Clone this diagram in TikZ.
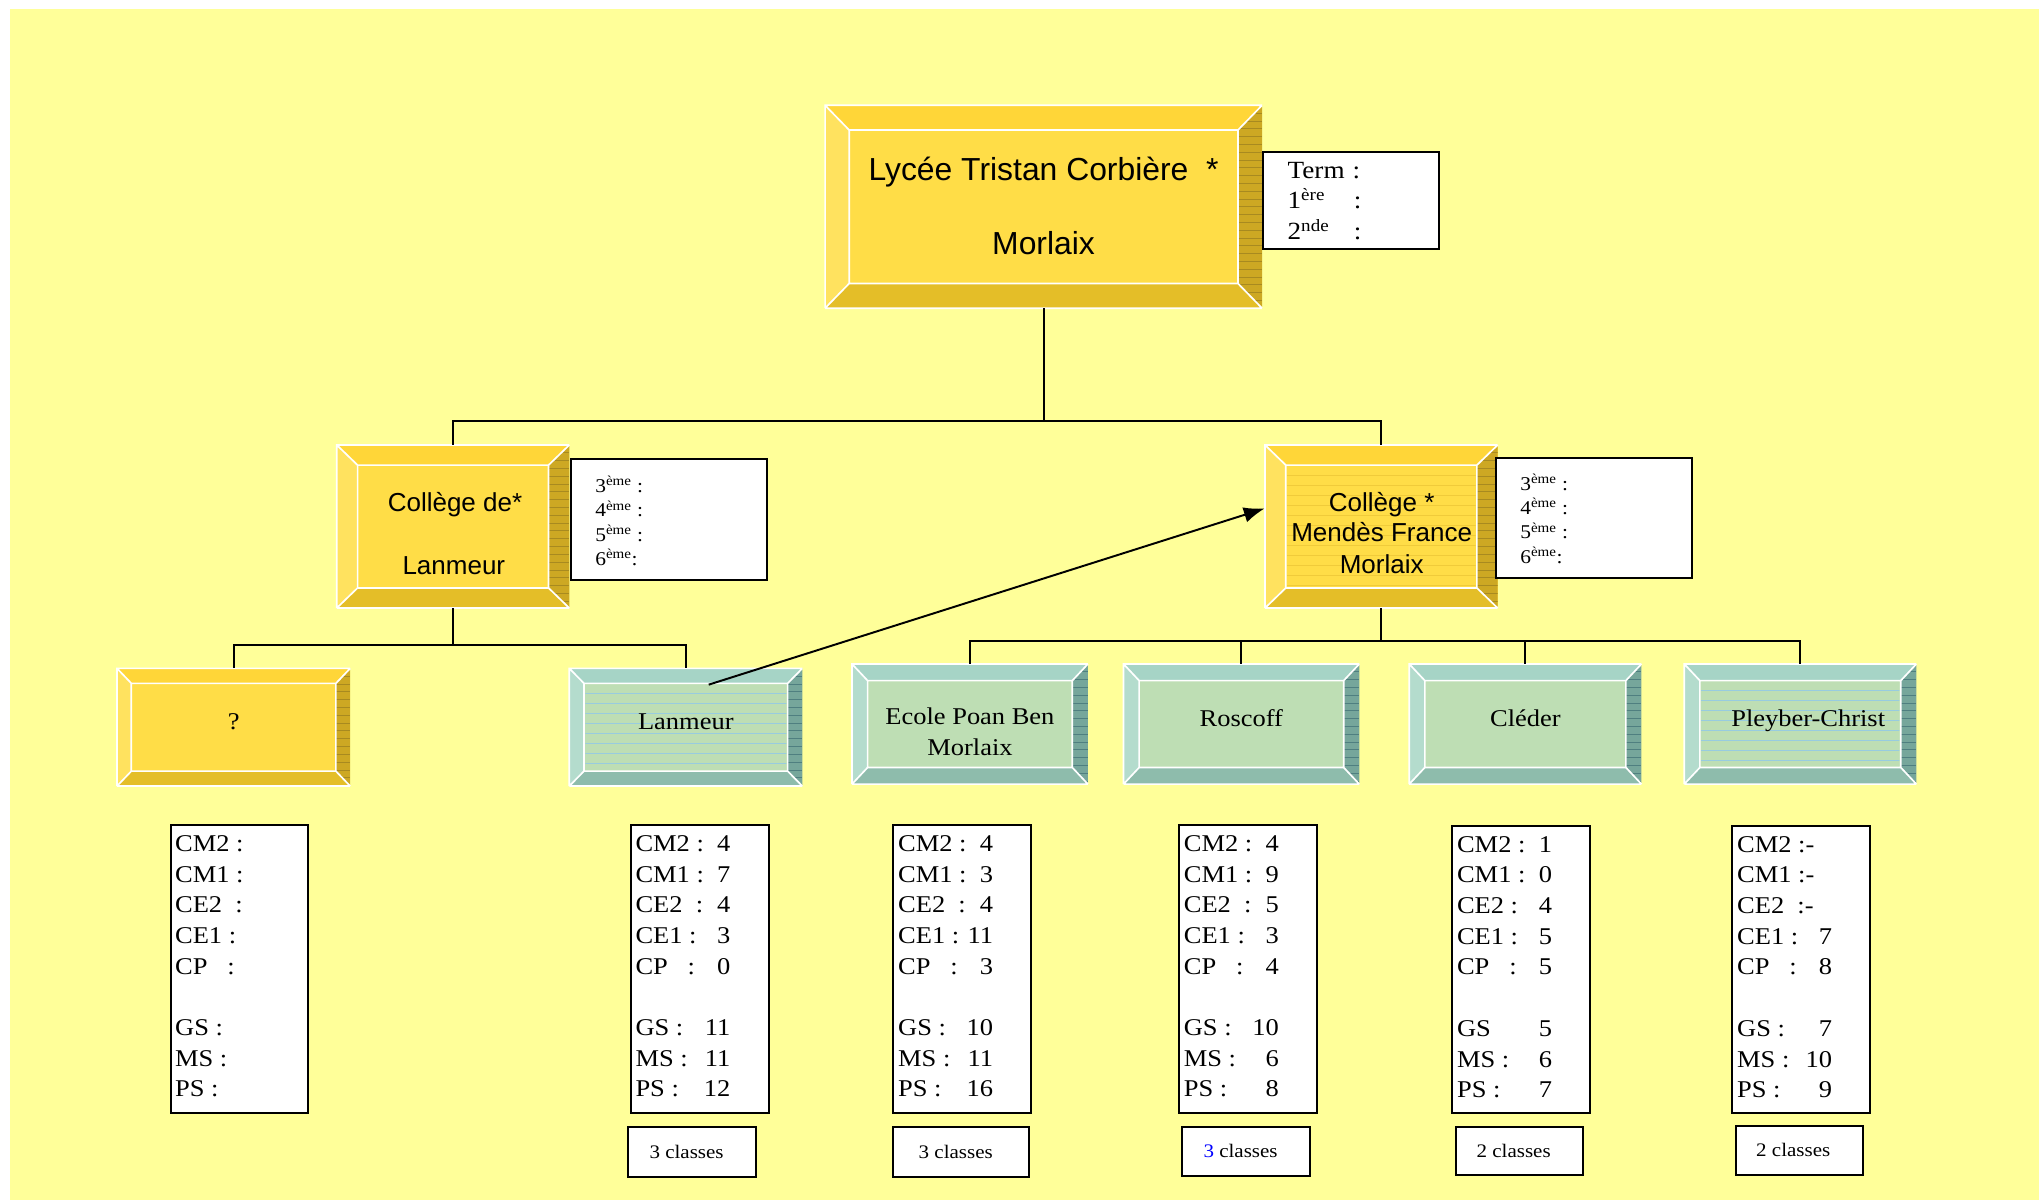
\documentclass[tikz,border=0pt]{standalone}
\usepackage{fontspec}
\setmainfont{Liberation Serif}[FakeStretch=1.1]
\newfontfamily\arialf{Liberation Sans}
\usetikzlibrary{arrows.meta,fit}
\definecolor{bgy}{HTML}{FFFF99}
\definecolor{yelF}{HTML}{FFDD47}
\definecolor{yelT}{HTML}{FFD638}
\definecolor{yelL}{HTML}{FFE25F}
\definecolor{yelB}{HTML}{E4BE28}
\definecolor{yelR}{HTML}{CDA823}
\definecolor{yelH}{HTML}{A88A20}
\definecolor{tealF}{HTML}{BEDEB4}
\definecolor{tealT}{HTML}{A6D4C6}
\definecolor{tealL}{HTML}{B4DCCD}
\definecolor{tealB}{HTML}{8EBCAC}
\definecolor{tealR}{HTML}{76A69B}
\definecolor{tealH}{HTML}{4F7F80}
\definecolor{stripeB}{HTML}{98CCE0}
\definecolor{stripeY}{HTML}{F0CB3A}
\newcommand\bevbox[8]{%
 \fill[#2F] (#3,#4) rectangle (#5,#6);
 \fill[#2T] (#3,#4) -- (#5,#4) -- ({#5-#7},{#4+#8}) -- ({#3+#7},{#4+#8}) -- cycle;
 \fill[#2B] (#3,#6) -- (#5,#6) -- ({#5-#7},{#6-#8}) -- ({#3+#7},{#6-#8}) -- cycle;
 \fill[#2L] (#3,#4) -- ({#3+#7},{#4+#8}) -- ({#3+#7},{#6-#8}) -- (#3,#6) -- cycle;
 \fill[#2R] (#5,#4) -- ({#5-#7},{#4+#8}) -- ({#5-#7},{#6-#8}) -- (#5,#6) -- cycle;
 \begin{scope}
  \clip (#5,#4) -- ({#5-#7},{#4+#8}) -- ({#5-#7},{#6-#8}) -- (#5,#6) -- cycle;
  \foreach \k in {1,...,30}{\draw[#2H,line width=0.5pt] ({#5-#7},{#4+\k*6}) -- (#5,{#4+\k*6});}
 \end{scope}
 \draw[white,line width=1.3pt] (#3,#6) -- (#3,#4) -- (#5,#4) (#3,#6) -- (#5,#6)
   (#3,#4) -- ({#3+#7},{#4+#8}) (#5,#4) -- ({#5-#7},{#4+#8})
   (#3,#6) -- ({#3+#7},{#6-#8}) (#5,#6) -- ({#5-#7},{#6-#8})
   ({#3+#7},{#4+#8}) rectangle ({#5-#7},{#6-#8});
 \node[inner sep=0,fit={(#3,#4)(#5,#6)}] (#1) {};
}
\newcommand\stripes[5]{%
 \begin{scope}
  \clip ({#1+1},{#2+1}) rectangle ({#3-1},{#4-1});
  \foreach \k in {1,...,20}{\draw[#5,line width=0.6pt] (#1,{#2+\k*7.7}) -- (#3,{#2+\k*7.7});}
 \end{scope}
}
\newcommand\drow[2]{\hbox to 73pt{#1\hfill #2}}
\newcommand\dfont{\fontsize{18.5}{23.6}\selectfont}
\newcommand\sfnt{\fontsize{18.5}{22}\selectfont}
\newcommand\cfont{\fontsize{14.7}{18}\selectfont}
\newcommand\tfont{\fontsize{19}{23.4}\selectfont}
\newcommand\kfont{\fontsize{15}{18.7}\selectfont}
\begin{document}
\begin{tikzpicture}[x=1pt,y=-1pt,
  conn/.style={line width=1.5pt,black},
  blk/.style={draw=black,line width=1.5pt,fill=white,inner sep=0},
  txt/.style={inner sep=0},
  ar/.style={arialf},
]
\useasboundingbox (0,0) rectangle (1568,922.8);
\fill[bgy] (7.7,7) rectangle (1568,922.8);

% connectors (behind boxes)
\coordinate (j1) at (802.5,323.5);
\coordinate (j2) at (348.4,496);
\coordinate (j3) at (1062.25,493);

% bevel boxes
\bevbox{lyc}{yel}{634.5}{81}{970.5}{237}{18.5}{19}
\bevbox{clan}{yel}{259}{342.2}{437.8}{467.6}{16}{15.5}
\bevbox{cmf}{yel}{972.8}{342.2}{1151.7}{467.6}{16}{15.5}
\stripes{988.8}{357.7}{1135.7}{452.1}{stripeY}
\bevbox{q}{yel}{90}{514}{269.3}{604.5}{11}{11.5}
\bevbox{lans}{teal}{437.8}{514}{617}{604.5}{11.3}{11.5}
\stripes{449.1}{525.5}{605.7}{593}{stripeB}
\bevbox{ecole}{teal}{655.2}{510.6}{836.6}{603}{12}{12.8}
\bevbox{ros}{teal}{864}{510.6}{1045.3}{603}{12}{12.8}
\bevbox{cled}{teal}{1083.7}{510.6}{1262.3}{603}{12}{12.8}
\bevbox{pley}{teal}{1295.2}{510.6}{1473.7}{603}{12}{12.8}
\stripes{1307.2}{523.4}{1461.7}{590.2}{stripeB}

\draw[conn] (lyc.south) -- (j1);
\draw[conn] (clan.north) -- (clan.north |- j1) -- (cmf.north |- j1) -- (cmf.north);
\draw[conn] (clan.south) -- (j2);
\draw[conn] (q.north) -- (q.north |- j2) -- (lans.north |- j2) -- (lans.north);
\draw[conn] (cmf.south) -- (j3);
\draw[conn] (ecole.north) -- (ecole.north |- j3) -- (pley.north |- j3) -- (pley.north);
\draw[conn] (ros.north) -- (ros.north |- j3);
\draw[conn] (cled.north) -- (cled.north |- j3);

% texts in bevel boxes
\node[txt,anchor=base,font=\arialf\fontsize{24.5}{29}\selectfont] (lyt1) at (802.5,138.5) {Lycée Tristan Corbière\ \ *};
\node[txt,anchor=base,font=\arialf\fontsize{24.5}{29}\selectfont] (lyt2) at (802.5,195.4) {Morlaix};
\node[txt,anchor=base,font=\arialf\fontsize{20}{24}\selectfont] (clt1) at (349.9,393.5) {Collège de*};
\node[txt,anchor=base,font=\arialf\fontsize{20}{24}\selectfont] (clt2) at (349,441.6) {Lanmeur};
\node[txt,anchor=base,font=\arialf\fontsize{20}{24}\selectfont] (cmt1) at (1062.5,393.5) {Collège *};
\node[txt,anchor=base,font=\arialf\fontsize{20}{24}\selectfont] (cmt2) at (1062.5,416.6) {Mendès France};
\node[txt,anchor=base,font=\arialf\fontsize{20}{24}\selectfont] (cmt3) at (1062.5,440.9) {Morlaix};
\node[txt,anchor=base,font=\sfnt] (qt) at (179.7,560.6) {?};
\node[txt,anchor=base,font=\sfnt] (lant) at (527.4,560.6) {Lanmeur};
\node[txt,anchor=base,font=\sfnt] (ect1) at (745.9,557.5) {Ecole Poan Ben};
\node[txt,anchor=base,font=\sfnt] (ect2) at (745.9,580.6) {Morlaix};
\node[txt,anchor=base,font=\sfnt] (rost) at (954.6,558.3) {Roscoff};
\node[txt,anchor=base,font=\sfnt] (cledt) at (1173,558.3) {Cléder};
\node[txt,anchor=base,font=\sfnt] (pleyt) at (1390.5,558.3) {Pleyber-Christ};

% arrow
\coordinate (arrS) at (545,526.5);
\coordinate (arrE) at (972.5,391);
\draw[conn,-{Latex[length=16pt,width=12pt]}] (arrS) -- (arrE);

% side boxes
\node[blk,fit={(971,117)(1106.5,191.5)}] (term) {};
\node[txt,anchor=north west,font=\tfont] (termt) at (990,120.6) {\begin{tabular}{@{}l@{}}
\hbox to 50pt{Term\hfill}:\\
\hbox to 51pt{1\textsuperscript{ère}\hfill}:\\
\hbox to 51pt{2\textsuperscript{nde}\hfill}:
\end{tabular}};
\node[blk,fit={(438.8,353.2)(590,446)}] (sl) {};
\node[txt,anchor=north west,font=\kfont] (slt) at (457.6,365.5) {\begin{tabular}{@{}l@{}}
3\textsuperscript{ème} :\\ 4\textsuperscript{ème} :\\ 5\textsuperscript{ème} :\\ 6\textsuperscript{ème}:
\end{tabular}};
\node[blk,fit={(1150.2,352.5)(1301.4,444.7)}] (sm) {};
\node[txt,anchor=north west,font=\kfont] (smt) at (1168.9,363.7) {\begin{tabular}{@{}l@{}}
3\textsuperscript{ème} :\\ 4\textsuperscript{ème} :\\ 5\textsuperscript{ème} :\\ 6\textsuperscript{ème}:
\end{tabular}};

% data boxes
\node[blk,fit={(131.5,634.4)(237,855.7)}] (d1) {};
\node[txt,anchor=north west,font=\dfont] (d1t) at (134.5,638) {\begin{tabular}{@{}l@{}}
\drow{CM2 :}{}\\ \drow{CM1 :}{}\\ \drow{CE2\ \ :}{}\\ \drow{CE1 :}{}\\ \drow{CP\ \ \ :}{}\\ \\
\drow{GS :}{}\\ \drow{MS :}{}\\ \drow{PS :}{}
\end{tabular}};
\node[blk,fit={(485,634.4)(591,855.7)}] (d2) {};
\node[txt,anchor=north west,font=\dfont] (d2t) at (488.5,638) {\begin{tabular}{@{}l@{}}
\drow{CM2 :}{4}\\ \drow{CM1 :}{7}\\ \drow{CE2\ \ :}{4}\\ \drow{CE1 :}{3}\\ \drow{CP\ \ \ :}{0}\\ \\
\drow{GS :}{11}\\ \drow{MS :}{11}\\ \drow{PS :}{12}
\end{tabular}};
\node[blk,fit={(687,634.4)(793,855.7)}] (d3) {};
\node[txt,anchor=north west,font=\dfont] (d3t) at (690.5,638) {\begin{tabular}{@{}l@{}}
\drow{CM2 :}{4}\\ \drow{CM1 :}{3}\\ \drow{CE2\ \ :}{4}\\ \drow{CE1 :}{11}\\ \drow{CP\ \ \ :}{3}\\ \\
\drow{GS :}{10}\\ \drow{MS :}{11}\\ \drow{PS :}{16}
\end{tabular}};
\node[blk,fit={(906.7,634.4)(1013,855.7)}] (d4) {};
\node[txt,anchor=north west,font=\dfont] (d4t) at (910.2,638) {\begin{tabular}{@{}l@{}}
\drow{CM2 :}{4}\\ \drow{CM1 :}{9}\\ \drow{CE2\ \ :}{5}\\ \drow{CE1 :}{3}\\ \drow{CP\ \ \ :}{4}\\ \\
\drow{GS :}{10}\\ \drow{MS :}{6}\\ \drow{PS :}{8}
\end{tabular}};
\node[blk,fit={(1116.8,635)(1222.7,856.1)}] (d5) {};
\node[txt,anchor=north west,font=\dfont] (d5t) at (1120.3,638.6) {\begin{tabular}{@{}l@{}}
\drow{CM2 :}{1}\\ \drow{CM1 :}{0}\\ \drow{CE2 :}{4}\\ \drow{CE1 :}{5}\\ \drow{CP\ \ \ :}{5}\\ \\
\drow{GS}{5}\\ \drow{MS :}{6}\\ \drow{PS :}{7}
\end{tabular}};
\node[blk,fit={(1332.2,635)(1438,856.1)}] (d6) {};
\node[txt,anchor=north west,font=\dfont] (d6t) at (1335.7,638.6) {\begin{tabular}{@{}l@{}}
\drow{CM2 :-}{}\\ \drow{CM1 :-}{}\\ \drow{CE2\ \ :-}{}\\ \drow{CE1 :}{7}\\ \drow{CP\ \ \ :}{8}\\ \\
\drow{GS :}{7}\\ \drow{MS :}{10}\\ \drow{PS :}{9}
\end{tabular}};

% classes boxes
\node[blk,fit={(483,867)(581,905)}] (c2) {};
\node[txt,anchor=base,font=\cfont] (c2t) at (528,890.5) {3 classes};
\node[blk,fit={(687,867)(791,905)}] (c3) {};
\node[txt,anchor=base,font=\cfont] (c3t) at (735,890.5) {3 classes};
\node[blk,fit={(909.2,866.4)(1007.4,904.3)}] (c4) {};
\node[txt,anchor=base,font=\cfont] (c4t) at (954,890) {{\color{blue}3} classes};
\node[blk,fit={(1119.4,866.4)(1217.6,903.6)}] (c5) {};
\node[txt,anchor=base,font=\cfont] (c5t) at (1164,890) {2 classes};
\node[blk,fit={(1334.8,865.8)(1432.9,903.6)}] (c6) {};
\node[txt,anchor=base,font=\cfont] (c6t) at (1379,889.5) {2 classes};
\end{tikzpicture}
\end{document}
